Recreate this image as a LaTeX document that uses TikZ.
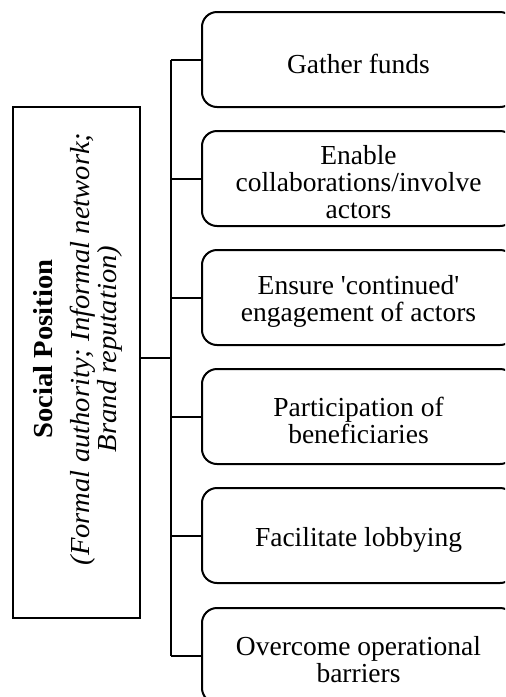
\documentclass[tikz,border=0pt]{standalone}
\usepackage{fontspec}
\setmainfont{Liberation Serif}
\begin{document}
\begin{tikzpicture}[x=0.5pt,y=-0.5pt,
  every node/.style={font=\fontsize{13.75pt}{13.5pt}\selectfont},
  rolebox/.style={draw, line width=1pt, rounded corners=7.5pt,
    minimum width=156.5pt, minimum height=47.5pt, inner sep=0pt},
  roletext/.style={align=center, inner sep=0pt},
  posbox/.style={draw, line width=1pt, minimum width=63.5pt,
    minimum height=255.5pt, inner sep=0pt},
  link/.style={line width=1pt}]
\clip (0,0) rectangle (505,697);

% central box with the rotated heading
\node[posbox] (sp) at (76.5,362.5) {};
\node[rotate=90, xscale=1.04, align=center, inner sep=0pt] (sptext) at (78,349)
  {\textbf{Social Position}\\[5pt]
   \textit{(Formal authority; Informal network;}\\
   \textit{Brand reputation)}};

% the six roles: frames, then their labels
\foreach \n/\y in {1/59.5,2/178.5,3/297.5,4/416.5,5/535.5,6/655.5}
  \node[rolebox] (b\n) at (358.5,\y) {};
\node[roletext] (t1) at ([yshift=-2pt]b1.center) {Gather funds};
\node[roletext] (t2) at ([yshift=-2pt]b2.center) {Enable\\collaborations/involve\\actors};
\node[roletext] (t3) at ([yshift=-2pt]b3.center) {Ensure \textquotesingle continued\textquotesingle\\engagement of actors};
\node[roletext] (t4) at ([yshift=-2pt]b4.center) {Participation of\\beneficiaries};
\node[roletext] (t5) at ([yshift=-2pt]b5.center) {Facilitate lobbying};
\node[roletext] (t6) at ([yshift=-2pt]b6.center) {Overcome operational\\barriers};

% bracket connectors
\coordinate (hub) at (171,358);
\draw[link] (hub -| sp.east) -- (hub);
\draw[link] (b1.west -| hub) -- (b6.west -| hub);
\foreach \b in {b1,b2,b3,b4,b5,b6}
  \draw[link] (\b.west) -- (\b.west -| hub);
\end{tikzpicture}
\end{document}
